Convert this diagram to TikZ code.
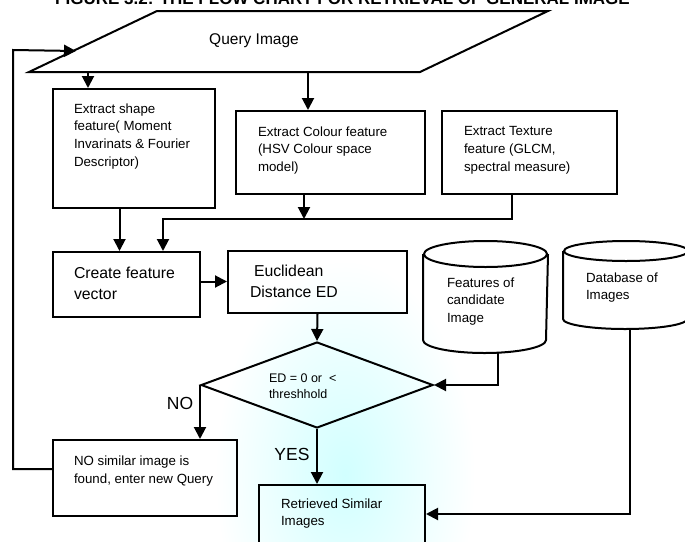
\documentclass[tikz,border=0pt]{standalone}
\usepackage{fontspec}
\setmainfont{Liberation Sans}
\usetikzlibrary{arrows.meta,calc,shapes.geometric}

% cylinder outline around an invisible node: #1 node, #2 half width, #3 rim radius
\newcommand\drum[3]{%
  \draw ($(#1.north)+(0,#3)$) ellipse [x radius=#2pt, y radius=#3pt];
  \draw ($(#1.north west)+(0,#3)$) -- ($(#1.south west)+(0,-#3)$)
        arc[start angle=180, end angle=360, x radius=#2pt, y radius=#3pt]
        -- ($(#1.north east)+(0,#3)$);
}

\begin{document}
\begin{tikzpicture}[x=1pt, y=-1pt, line width=2pt,
  arr/.style={-{Triangle[length=12pt,width=12pt]}},
  box/.style={draw, rectangle, inner sep=0pt},
  hole/.style={rectangle, inner sep=0pt},
  txt/.style={font=\fontsize{13.3}{17.8}\selectfont, align=left, inner sep=0pt, anchor=north west},
  bigtxt/.style={font=\fontsize{15.8}{21}\selectfont, align=left, inner sep=0pt, anchor=north west},
  lbl/.style={font=\fontsize{17.5}{20}\selectfont, inner sep=0pt}]

\useasboundingbox (0,0) rectangle (685,541);
\fill[white] (0,0) rectangle (685,541);
\clip (0,0) rectangle (685,541);

% soft cyan glow behind the lower middle
\shade[inner color=cyan!18, outer color=white] (345,475) ellipse [x radius=130pt, y radius=215pt];

% heading (runs off the top edge)
\node[font=\bfseries\fontsize{17}{20}\selectfont, anchor=base, inner sep=0pt] (title)
  at (342.5,4) {FIGURE 3.2: THE FLOW CHART FOR RETRIEVAL OF GENERAL IMAGE};

% query input (parallelogram)
\node[hole, minimum width=517pt, minimum height=59pt] (query) at (288.5,41.5) {};
\draw ($(query.north west)+(128,0)$) -- (query.north east)
      -- ($(query.south east)+(-128,0)$) -- (query.south west) -- cycle;
\node[font=\fontsize{15.5}{18}\selectfont, inner sep=0pt] (qtext) at (254,41) {Query Image};
\coordinate (qin) at ($(query.south west)+(47,-21)$);
\coordinate (loopc) at (13,50);

% feature extraction boxes
\node[box, minimum width=162pt, minimum height=119pt] (shape)   at (134,148.5) {};
\node[box, minimum width=189pt, minimum height=83pt]  (colour)  at (330.5,152.5) {};
\node[box, minimum width=175pt, minimum height=83pt]  (texture) at (529.5,152.5) {};
\node[txt] (shapetext) at (73,102.5) {Extract shape\\feature( Moment\\Invarinats \& Fourier\\Descriptor)};
\node[txt] (colourtext) at (257,125.5) {Extract Colour feature\\(HSV Colour space\\model)};
\node[txt] (texturetext) at (463,125.5) {Extract Texture\\feature (GLCM,\\spectral measure)};

% feature vector and distance
\node[box, minimum width=147pt, minimum height=65pt] (create) at (126.5,284.5) {};
\node[box, minimum width=179pt, minimum height=62pt] (eucl)   at (317.5,282) {};
\node[bigtxt] (createtext) at (73,266.5) {Create feature\\vector};
\node[bigtxt] (eucltext) at (249,264.5) {\hspace*{4pt}Euclidean\\Distance ED};

% stores
\node[hole, minimum width=123pt, minimum height=110pt] (feat) at (485.5,297) {};
\node[hole, minimum width=124pt, minimum height=86pt]  (db)   at (626,285) {};
\drum{feat}{61.5}{13}
\drum{db}{62}{10}
\node[txt] (feattext) at (446,276.5) {Features of\\candidate\\Image};
\node[txt] (dbtext) at (585,271.5) {Database of\\Images};

% decision
\node[diamond, draw, inner sep=0pt, minimum width=232pt, minimum height=86pt] (dia) at (317,385) {};
\node[font=\fontsize{12.5}{16}\selectfont, align=left, inner sep=0pt, anchor=north west] (diatext)
  at (268,373) {ED = 0 or \ <\\threshhold};

% outcomes
\node[box, minimum width=184pt, minimum height=76pt] (nobox) at (145,478) {};
\node[box, minimum width=166pt, minimum height=80pt] (retr)  at (342,525) {};
\node[txt] (notext) at (73,455) {NO similar image is\\found, enter new Query};
\node[txt] (retrtext) at (280,497.5) {Retrieved Similar\\Images};
\node[lbl] (yes) at (292,454) {YES};
\node[lbl] (no)  at (180,403) {NO};

% connectors
\draw[arr] ([xshift=-46pt]shape.north |- query.south) -- ([xshift=-46pt]shape.north);
\draw[arr] ([xshift=-22.5pt]colour.north |- query.south) -- ([xshift=-22.5pt]colour.north);
\draw[arr] ([xshift=-17.5pt]texture.south) -- ++(0,24) -| ([xshift=36.5pt]create.north);
\draw[arr] ([xshift=-26.5pt]colour.south) -- ++(0,24);
\draw[arr] ([xshift=-14.5pt]shape.south) -- ([xshift=-14.5pt]shape.south |- create.north);
\draw[arr] ([yshift=3pt]create.east) -- ([yshift=3pt]create.east -| eucl.west);
\draw[arr] (eucl.south) -- (dia.north);
\draw[arr] ([xshift=12.5pt]feat.south) |- (dia.east);
\draw[arr] ([xshift=4pt]db.south) |- ($(retr.north east)+(0,30)$);
\draw[arr] (dia.south) -- (dia.south |- retr.north);
\draw[arr] (dia.west) -- (dia.west |- nobox.north);
\draw[arr] ($(nobox.west)+(0,-9)$) -| (loopc) -- (qin);

\end{tikzpicture}
\end{document}
